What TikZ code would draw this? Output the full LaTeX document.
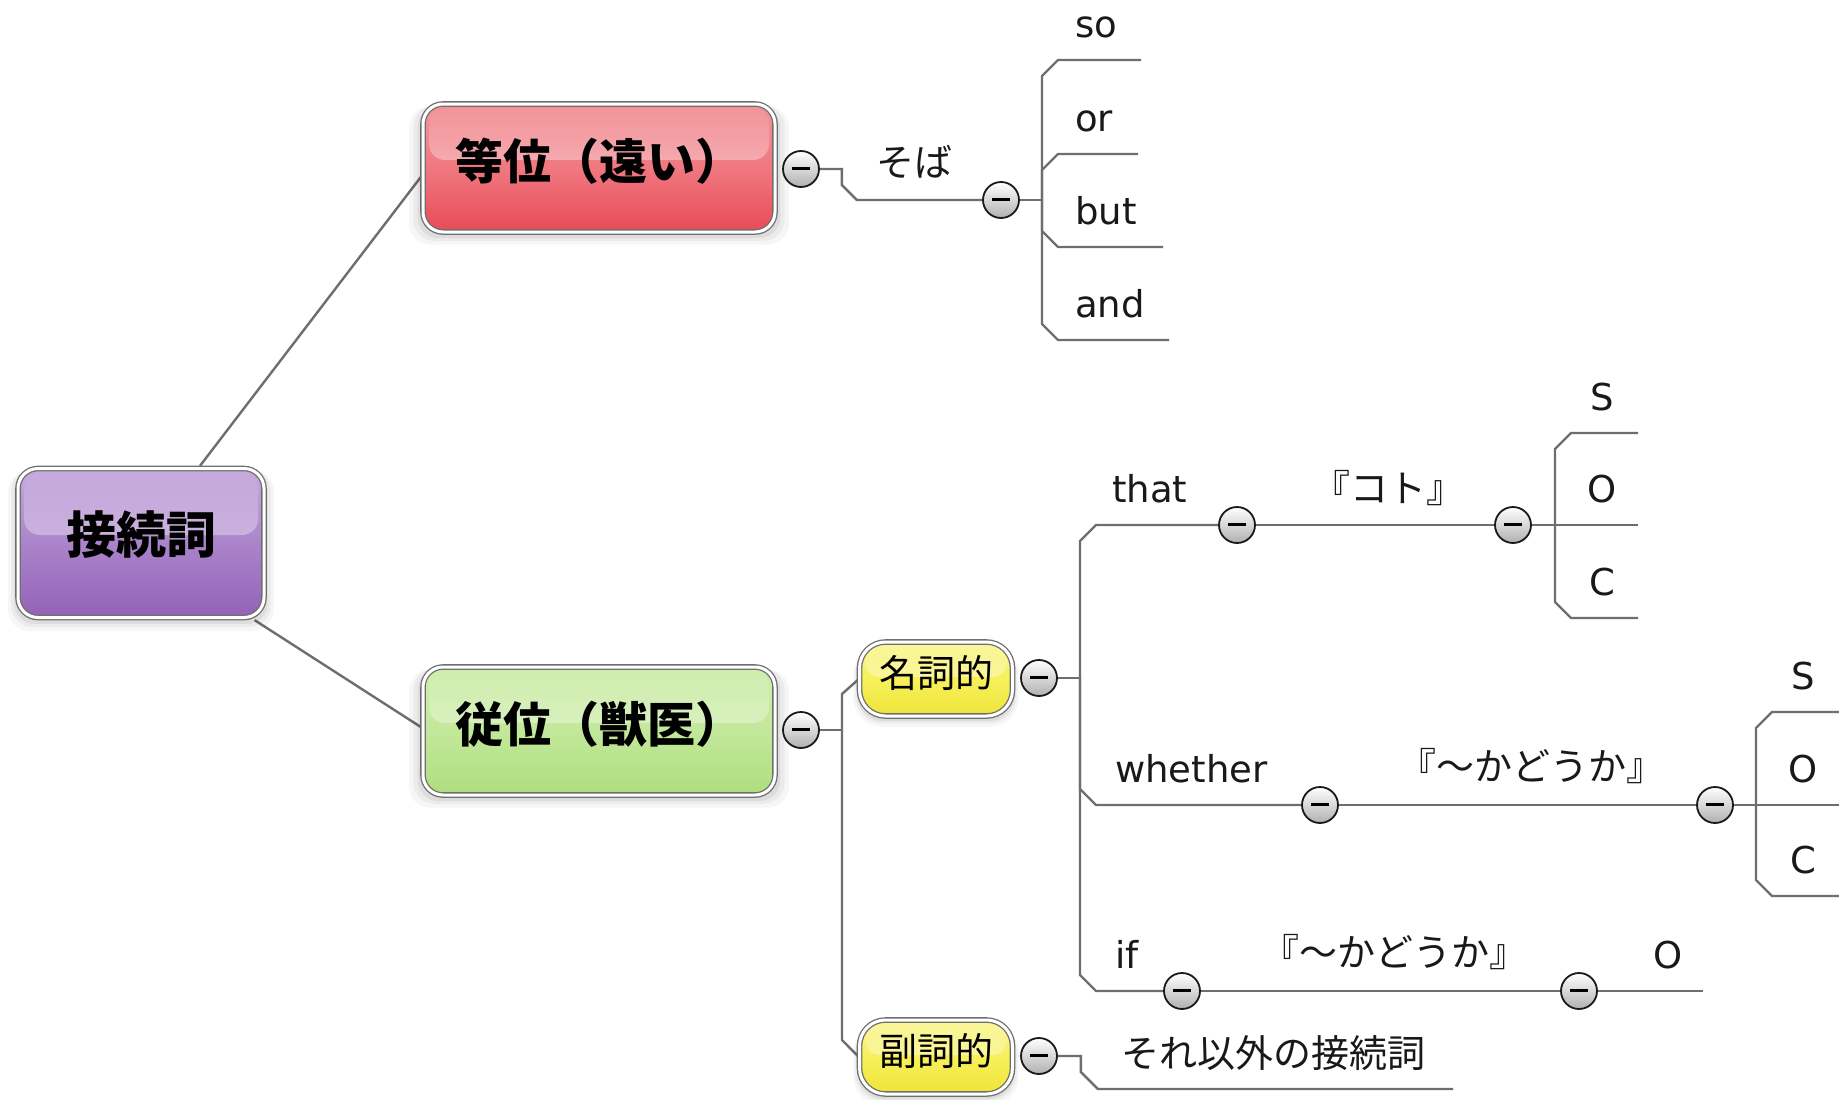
\documentclass[tikz,border=0pt]{standalone}
\usepackage{fontspec}
\setmainfont{DejaVu Sans}
\newfontfamily\jp{Noto Sans CJK JP}
\usetikzlibrary{shadows,backgrounds,fadings}
\definecolor{linegray}{HTML}{6E6E6E}
\definecolor{boxline}{HTML}{6F6F6F}
\definecolor{redtop}{HTML}{F2959B}
\definecolor{redmid}{HTML}{F07880}
\definecolor{redbot}{HTML}{E84A56}
\definecolor{purtop}{HTML}{C7AADD}
\definecolor{purmid}{HTML}{AA84CA}
\definecolor{purbot}{HTML}{9462B8}
\definecolor{grntop}{HTML}{D0EEAE}
\definecolor{grnmid}{HTML}{C2E89A}
\definecolor{grnbot}{HTML}{AEDD7E}
\definecolor{yeltop}{HTML}{FBF69A}
\definecolor{yelmid}{HTML}{F7F05A}
\definecolor{yelbot}{HTML}{EFE43A}
\definecolor{btnbot}{HTML}{B0B0B0}
\tikzset{
  glow/.style={
    general shadow={fill=black, opacity=0.035, shadow scale=1.08, shadow yshift=-7pt},
    general shadow={fill=black, opacity=0.045, shadow scale=1.055, shadow yshift=-5pt},
    general shadow={fill=black, opacity=0.06, shadow scale=1.03, shadow yshift=-4pt},
    general shadow={fill=black, opacity=0.07, shadow scale=1.01, shadow yshift=-2pt}},
  gloss/.style 2 args={path picture={
    \fill[white, fill opacity=0.8, path fading=north, rounded corners=#1]
      ([xshift=6pt,yshift=-5pt]path picture bounding box.north west)
      rectangle ([xshift=-6pt,yshift=#2]path picture bounding box.east);}},
  topicbox/.style={draw=boxline, line width=1.3pt, double=white, double distance=3pt,
    rounded corners=20pt, inner sep=0pt, glow, gloss={16pt}{8pt},
    minimum width=352pt, minimum height=128pt,
    font=\jp\bfseries\fontsize{48pt}{52pt}\selectfont, text height=40pt, text depth=17pt},
  subbox/.style={draw=boxline, line width=1.3pt, double=white, double distance=3pt,
    rounded corners=26pt, inner sep=0pt, glow, gloss={14pt}{2pt},
    top color=yeltop, bottom color=yelbot, middle color=yelmid,
    minimum width=153pt, minimum height=74pt,
    font=\jp\fontsize{38pt}{42pt}\selectfont, text height=30pt, text depth=13pt},
  btn/.style={circle, minimum size=36pt, inner sep=0pt, draw=black!90, line width=1.8pt,
    top color=white, bottom color=btnbot,
    path picture={\draw[line width=3pt, black]
      ([xshift=-9pt,yshift=1pt]path picture bounding box.center) --
      ([xshift=9pt,yshift=1pt]path picture bounding box.center);}},
  branch/.style={draw=linegray, line width=2.4pt},
  lat/.style={font=\fontsize{37pt}{41pt}\selectfont, inner sep=0pt, text=black!90},
  jps/.style={font=\jp\fontsize{38pt}{42pt}\selectfont, inner sep=0pt, text=black!90},
}
\begin{document}
\begin{tikzpicture}[x=1pt,y=-1pt]
\useasboundingbox (0,0) rectangle (1839,1100);

% main topics
\node[topicbox, top color=purtop, bottom color=purbot, middle color=purmid,
  minimum width=246pt, minimum height=149pt,
  font=\jp\bfseries\fontsize{50pt}{54pt}\selectfont, text height=40pt, text depth=20pt]
  (root) at (141,543) {接続詞};
\node[topicbox, top color=redtop, bottom color=redbot, middle color=redmid] (red) at (599,168) {等位（遠い）};
\node[topicbox, top color=grntop, bottom color=grnbot, middle color=grnmid] (green) at (599,731) {従位（獣医）};
\node[subbox] (nn) at (936,679) {名詞的};
\node[subbox] (fn) at (936,1057) {副詞的};

% collapse buttons
\node[btn] (rc) at (801,169) {};
\node[btn] (c2) at (1001,200) {};
\node[btn] (gc) at (801,730) {};
\node[btn] (nc) at (1039,678) {};
\node[btn] (fc) at (1039,1056) {};
\node[btn] (tc1) at (1237,525) {};
\node[btn] (tc2) at (1513,525) {};
\node[btn] (wc1) at (1320,805) {};
\node[btn] (wc2) at (1715,805) {};
\node[btn] (ic1) at (1182,991) {};
\node[btn] (ic2) at (1579,991) {};

% labels
\node[jps, anchor=west] (soba) at (876,162) {そば};
\node[lat, anchor=base west] (so) at (1075,37) {so};
\node[lat, anchor=base west] (or) at (1075,131) {or};
\node[lat, anchor=base west] (but) at (1075,224) {but};
\node[lat, anchor=base west] (and) at (1075,317) {and};

\node[lat, anchor=base west] (that) at (1112,502) {that};
\node[jps] (koto) at (1388,488) {『コト』};
\node[lat, anchor=base] (tS) at (1602,410) {S};
\node[lat, anchor=base] (tO) at (1602,502) {O};
\node[lat, anchor=base] (tC) at (1602,595) {C};

\node[lat, anchor=base west] (whether) at (1115,782) {whether};
\node[jps] (wkadou) at (1531,766) {『〜かどうか』};
\node[lat, anchor=base] (wS) at (1803,689) {S};
\node[lat, anchor=base] (wO) at (1803,782) {O};
\node[lat, anchor=base] (wC) at (1803,873) {C};

\node[lat, anchor=base west] (if) at (1115,968) {if};
\node[jps] (ikadou) at (1394,952) {『〜かどうか』};
\node[lat, anchor=base] (iO) at (1668,968) {O};

\node[jps] (other) at (1273,1053) {それ以外の接続詞};

% junctions and line ends
\coordinate (j1) at (1042,200);
\coordinate (soE) at (1141,60);
\coordinate (orE) at (1138,154);
\coordinate (butE) at (1163,247);
\coordinate (andE) at (1169,340);
\coordinate (j2) at (842,730);
\coordinate (j3) at (1080,678);
\coordinate (j4) at (1555,525);
\coordinate (tSE) at (1638,433);
\coordinate (tOE) at (1638,525);
\coordinate (tCE) at (1638,618);
\coordinate (j5) at (1756,805);
\coordinate (wSE) at (1839,712);
\coordinate (wOE) at (1839,805);
\coordinate (wCE) at (1839,896);
\coordinate (iE) at (1703,991);
\coordinate (fE) at (1453,1089);

\begin{pgfonlayer}{background}
\fill[white] (0,0) rectangle (1839,1100);
\draw[branch] ([xshift=59pt,yshift=2pt]root.north) -- ([yshift=-7pt]red.west);
\draw[branch] ([xshift=-10pt,yshift=-2pt]root.south east) -- ([yshift=3pt]green.west);

\draw[branch] (rc.east) -- ++(22,0) -- ++(0,16) -- ++(15,15) -- (c2.west);
\draw[branch] (c2.east) -- (j1);
\draw[branch] (j1) -- ++(0,-124) -- ++(16,-16) -- (soE);
\draw[branch] (j1) -- ++(0,-30) -- ++(16,-16) -- (orE);
\draw[branch] (j1) -- ++(0,31) -- ++(16,16) -- (butE);
\draw[branch] (j1) -- ++(0,124) -- ++(16,16) -- (andE);

\draw[branch] (gc.east) -- (j2);
\draw[branch] (j2) -- ++(0,-36) -- (nn.west);
\draw[branch] (j2) -- ++(0,310) -- (fn.west);

\draw[branch] (nc.east) -- (j3);
\draw[branch] (j3) -- ++(0,-137) -- ++(16,-16) -- (tc1.west);
\draw[branch] (tc1.east) -- (tc2.west);
\draw[branch] (tc2.east) -- (j4);
\draw[branch] (j4) -- ++(0,-76) -- ++(16,-16) -- (tSE);
\draw[branch] (j4) -- (tOE);
\draw[branch] (j4) -- ++(0,77) -- ++(16,16) -- (tCE);

\draw[branch] (j3) -- ++(0,111) -- ++(16,16) -- (wc1.west);
\draw[branch] (wc1.east) -- (wc2.west);
\draw[branch] (wc2.east) -- (j5);
\draw[branch] (j5) -- ++(0,-77) -- ++(16,-16) -- (wSE);
\draw[branch] (j5) -- (wOE);
\draw[branch] (j5) -- ++(0,75) -- ++(16,16) -- (wCE);

\draw[branch] (j3) -- ++(0,297) -- ++(16,16) -- (ic1.west);
\draw[branch] (ic1.east) -- (ic2.west);
\draw[branch] (ic2.east) -- (iE);

\draw[branch] (fc.east) -- ++(23,0) -- ++(0,16) -- ++(17,17) -- (fE);
\end{pgfonlayer}
\end{tikzpicture}
\end{document}
